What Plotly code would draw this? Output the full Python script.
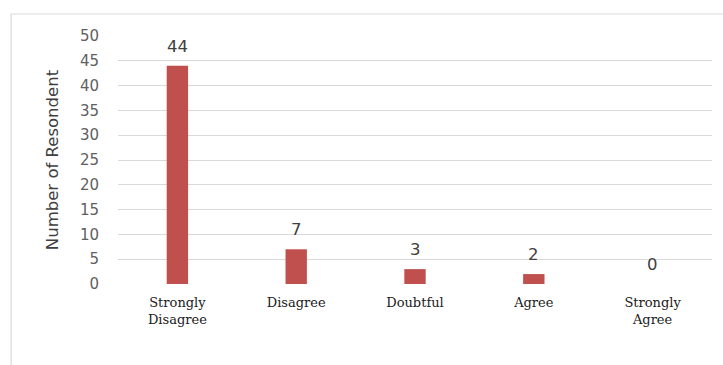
import plotly.graph_objects as go

categories = ["Strongly<br>Disagree", "Disagree", "Doubtful", "Agree", "Strongly<br>Agree"]
respondents = [44, 7, 3, 2, 0]
y_ticks = [0, 5, 10, 15, 20, 25, 30, 35, 40, 45, 50]

bar_color = "#C0504D"
sans = "DejaVu Sans, Verdana, sans-serif"
serif = "DejaVu Serif, Georgia, serif"

fig = go.Figure()
fig.add_trace(go.Bar(
    x=categories,
    y=respondents,
    marker=dict(color=bar_color, line=dict(width=0)),
    width=0.18,
    hoverinfo="x+y",
))

# value labels above each bar
for cat, val in zip(categories, respondents):
    fig.add_annotation(
        x=cat, y=val, text=str(val), showarrow=False,
        yanchor="bottom", yshift=8,
        font=dict(family=sans, size=16.5, color="#404040"),
    )

# outer chart frame
fig.add_shape(
    type="rect", xref="paper", yref="paper",
    x0=-0.180, x1=1.2, y0=-0.6, y1=1.0887,
    line=dict(color="#D9D9D9", width=1.2), fillcolor="rgba(0,0,0,0)", layer="below",
)

fig.update_layout(
    width=723, height=365,
    margin=dict(l=118, r=11, t=36, b=81),
    paper_bgcolor="white", plot_bgcolor="white",
    showlegend=False,
    xaxis=dict(
        showgrid=False, zeroline=False, showline=False,
        tickfont=dict(family=serif, size=13, color="#202020"),
        ticks="", ticklabelstandoff=9,
    ),
    yaxis=dict(
        range=[0, 50], tickvals=y_ticks,
        showgrid=True, gridcolor="#D9D9D9", gridwidth=1,
        zeroline=False, showline=False, ticks="",
        tickfont=dict(family=sans, size=15, color="#606060"),
        ticklabelstandoff=18,
        title=dict(text="Number of Resondent", standoff=17,
                   font=dict(family=sans, size=16.5, color="#404040")),
    ),
)

fig.write_html("out.html")
